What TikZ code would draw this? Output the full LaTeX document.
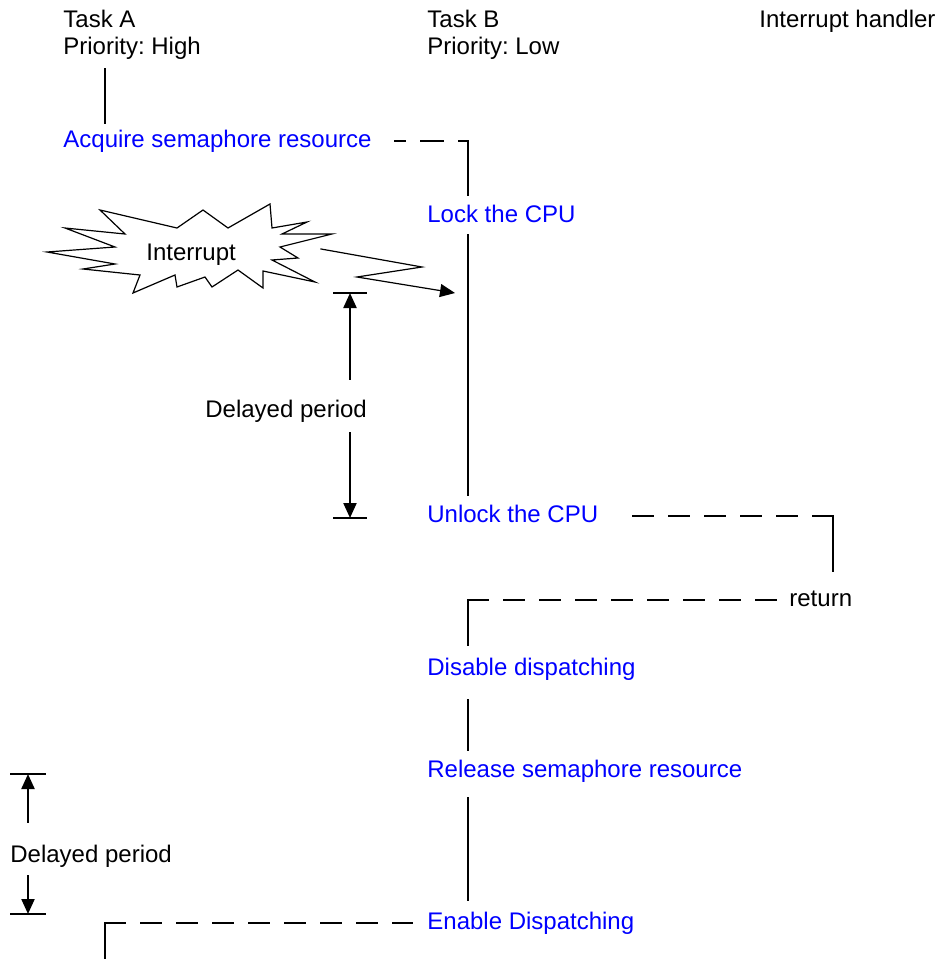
\documentclass[tikz,border=0pt]{standalone}
\usepackage{fontspec}
\setmainfont{Liberation Sans}
\frenchspacing
\usetikzlibrary{arrows.meta}
\tikzset{
	txt/.style={anchor=base west, inner sep=0pt, text height=8.5pt, text depth=2.5pt, font=\fontsize{12}{14}\selectfont},
	call/.style={txt, text=blue},
	run/.style={line width=1.1pt},
	wait/.style={line width=1pt, dash pattern=on 10pt off 8pt},
	bolt/.style={line width=0.6pt},
}
\begin{document}
\begin{tikzpicture}[x=0.5pt, y=-0.5pt, >={Triangle[length=7.5pt,width=6.5pt]}, line cap=rect, line join=miter]
	\useasboundingbox (0,0) rectangle (938,959);
	\coordinate (laneA) at (105,0);
	\coordinate (laneB) at (468,0);
	\coordinate (laneI) at (833,0);
	\node[txt] (taskA) at (63,27) {Task A};
	\node[txt] (prioA) at (63,54) {Priority: High};
	\node[txt] (taskB) at (427,27) {Task B};
	\node[txt] (prioB) at (427,54) {Priority: Low};
	\node[txt] (isr) at (759,27) {Interrupt handler};
	\node[call] (acquire) at (63,147) {Acquire semaphore resource};
	\node[call] (lock) at (427,222) {Lock the CPU};
	\node[call] (unlock) at (427,522) {Unlock the CPU};
	\node[txt] (ret) at (789,606) {return};
	\node[call] (disable) at (427,675) {Disable dispatching};
	\node[call] (release) at (427,777) {Release semaphore resource};
	\node[call] (enable) at (427,929) {Enable Dispatching};
	\draw[run, shorten <=5pt, shorten >=3.5pt] (prioA.south -| laneA) -- (acquire.north -| laneA);
	\draw[wait, dash pattern=on 11pt off 8pt, dash phase=6.5pt, shorten >=11.5pt] (acquire.east -| laneB) -- (acquire.east);
	\draw[run, shorten >=5pt] (acquire.east -| laneB) -- (lock.north -| laneB);
	\draw[run, shorten <=4pt, shorten >=5pt] (lock.south -| laneB) -- (unlock.north -| laneB);
	\draw[wait, shorten >=12.5pt] (unlock.east -| laneI) -- (unlock.east);
	\draw[run, shorten >=9pt] (unlock.east -| laneI) -- (ret.north -| laneI);
	\draw[wait, shorten >=5.5pt] (ret.west -| laneB) -- (ret.west);
	\draw[run, shorten >=6.5pt] (ret.west -| laneB) -- (disable.north -| laneB);
	\draw[run, shorten <=10pt, shorten >=5pt] (disable.south -| laneB) -- (release.north -| laneB);
	\draw[run, shorten <=8pt, shorten >=6pt] (release.south -| laneB) -- (enable.north -| laneB);
	\coordinate (bottomA) at (105,959);
	\draw[wait, shorten >=7.5pt] (enable.west -| laneA) -- (enable.west);
	\draw[run] (enable.west -| laneA) -- (bottomA);
	\draw[bolt] (47,252) -- (115,247) -- (65,228) -- (125,234) -- (100,210) -- (177,228) -- (203,210) -- (228,228) -- (270,204) -- (272,228) -- (307,222) -- (282,234) -- (332,234) -- (280,247) -- (298,258) -- (272,260) -- (315,282) -- (263,271) -- (263,288) -- (238,270) -- (212,287) -- (205,277) -- (177,287) -- (175,275) -- (133,293) -- (140,275) -- (83,269) -- (115,264) -- cycle;
	\node[txt] (irq) at (146,260) {Interrupt};
	\coordinate (irqout) at (321,249);
	\coordinate (irqin) at (455,293);
	\draw[bolt, ->] (irqout) -- (422,267) -- (357,277) -- (irqin);
	\node[txt] (delayB) at (205,417) {Delayed period};
	\coordinate (delayBtop) at (350,293);
	\coordinate (delayBbot) at (350,518);
	\draw[run] ([xshift=-8pt]delayBtop) -- ([xshift=8pt]delayBtop);
	\draw[run] ([xshift=-8pt]delayBbot) -- ([xshift=8pt]delayBbot);
	\draw[run, ->, line cap=butt, shorten <=10pt] (delayB.north -| delayBtop) -- (delayBtop);
	\draw[run, ->, line cap=butt, shorten <=5pt] (delayB.south -| delayBbot) -- (delayBbot);
	\node[txt] (delayA) at (10,862) {Delayed period};
	\coordinate (delayAtop) at (28,774);
	\coordinate (delayAbot) at (28,914);
	\draw[run] ([xshift=-8.5pt]delayAtop) -- ([xshift=8.5pt]delayAtop);
	\draw[run] ([xshift=-8.5pt]delayAbot) -- ([xshift=8.5pt]delayAbot);
	\draw[run, ->, line cap=butt, shorten <=11pt] (delayA.north -| delayAtop) -- (delayAtop);
	\draw[run, ->, line cap=butt, shorten <=4pt] (delayA.south -| delayAbot) -- (delayAbot);
\end{tikzpicture}
\end{document}
